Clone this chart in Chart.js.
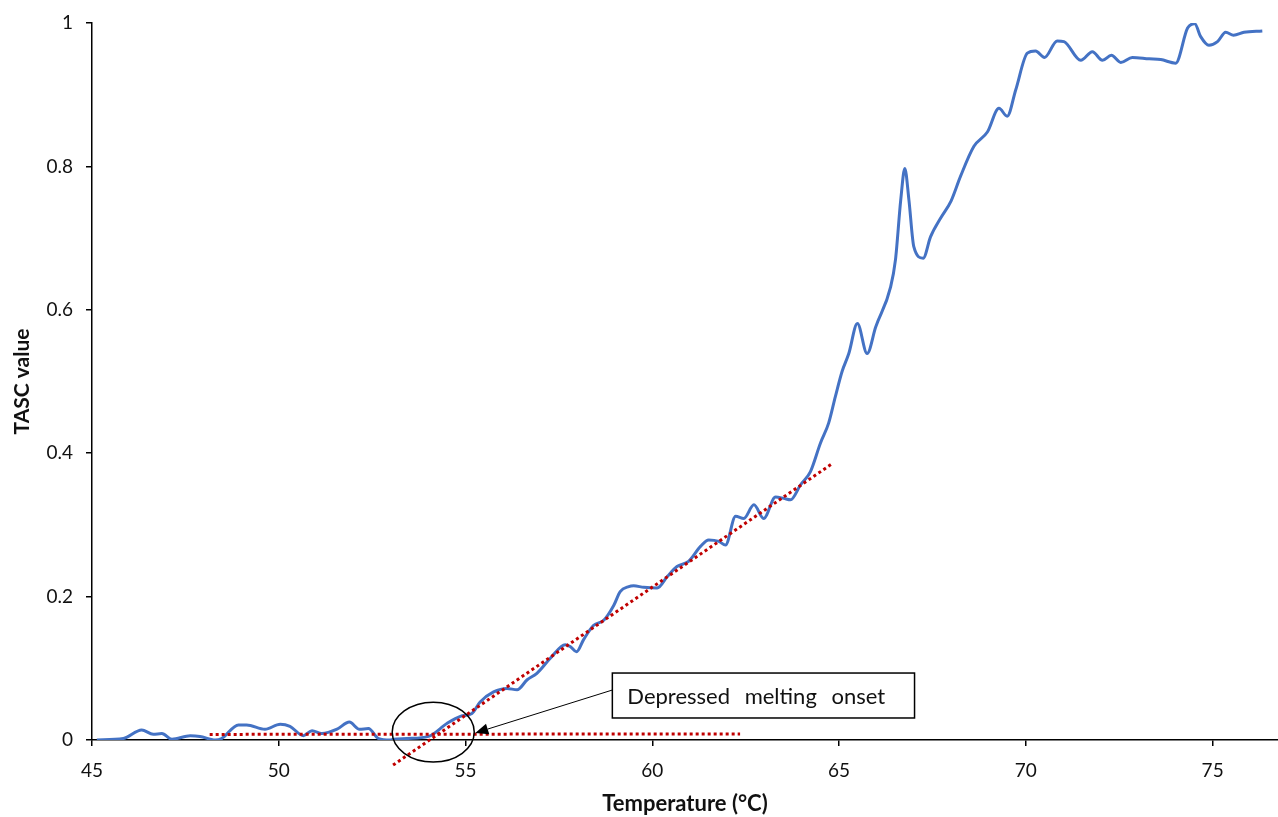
<!DOCTYPE html>
<html>
<head>
  <title>TASC value vs temperature</title>
  <script src="https://cdn.jsdelivr.net/npm/chart.js"></script>
  <style>
    html, body { margin: 0; padding: 0; background: #fff; }
    .chart-box { width: 1278px; height: 817px; }
  </style>
</head>
<body>
  <div class="chart-box">
    <canvas id="tascChart"></canvas>
  </div>

  <script>
    // measured curve (temperature in °C, TASC value)
    const tempC = [45.13, 45.84, 46.33, 46.64, 46.87, 47.14, 47.63, 47.89, 48.30, 48.47,
      48.92, 49.14, 49.63, 50.04, 50.30, 50.66, 50.89, 51.15, 51.56, 51.89,
      52.16, 52.40, 52.67, 52.98, 53.07, 53.43, 54.01, 54.50, 54.86, 55.17,
      55.39, 55.75, 56.11, 56.38, 56.65, 56.91, 57.27, 57.67, 57.81, 57.97,
      58.16, 58.43, 58.70, 58.97, 59.14, 59.37, 59.50, 59.77, 60.13, 60.40,
      60.66, 60.97, 61.29, 61.51, 61.78, 61.96, 62.23, 62.45, 62.72, 62.98,
      63.30, 63.52, 63.70, 63.97, 64.23, 64.50, 64.72, 64.90, 65.08, 65.26,
      65.49, 65.75, 65.98, 66.38, 66.51, 66.65, 66.76, 66.87, 67.00, 67.25,
      67.45, 67.72, 68.00, 68.25, 68.61, 68.97, 69.28, 69.50, 69.73, 70.04,
      70.26, 70.50, 70.84, 71.02, 71.47, 71.78, 72.05, 72.29, 72.54, 72.85,
      73.30, 73.61, 74.01, 74.33, 74.52, 74.68, 74.90, 75.13, 75.35, 75.56,
      75.84, 76.33];
    const tascValue = [0.000, 0.002, 0.014, 0.008, 0.009, 0.001, 0.006, 0.005, 0.000, 0.002,
      0.021, 0.021, 0.015, 0.022, 0.019, 0.006, 0.013, 0.009, 0.015, 0.025,
      0.015, 0.016, 0.002, 0.000, 0.001, 0.002, 0.005, 0.023, 0.033, 0.037,
      0.053, 0.067, 0.072, 0.070, 0.084, 0.093, 0.114, 0.133, 0.130, 0.123,
      0.140, 0.160, 0.167, 0.188, 0.207, 0.214, 0.215, 0.213, 0.212, 0.228,
      0.242, 0.249, 0.270, 0.279, 0.277, 0.272, 0.312, 0.309, 0.328, 0.309,
      0.339, 0.337, 0.335, 0.356, 0.374, 0.414, 0.442, 0.479, 0.514, 0.539,
      0.581, 0.539, 0.576, 0.632, 0.670, 0.753, 0.797, 0.753, 0.688, 0.672,
      0.702, 0.728, 0.752, 0.786, 0.828, 0.848, 0.881, 0.870, 0.907, 0.958,
      0.961, 0.952, 0.975, 0.974, 0.948, 0.960, 0.948, 0.955, 0.945, 0.952,
      0.950, 0.949, 0.944, 0.993, 0.999, 0.981, 0.969, 0.974, 0.987, 0.983,
      0.987, 0.989];

    // red dotted fit lines
    const baselineX = [48.15, 62.35];
    const baselineY = [0.0078, 0.0085];
    const slopeX = [53.06, 64.79];
    const slopeY = [-0.035, 0.3845];

    // axis ticks
    const xTicks = [45, 50, 55, 60, 65, 70, 75];
    const yTicks = [0, 0.2, 0.4, 0.6, 0.8, 1];

    // annotation: circle around onset, label box, arrow
    const onsetCircle = { x: 54.135, y: 0.011, rx: 1.098, ry: 0.0418 };
    const labelBox = { x1: 58.93, y1: 0.0934, x2: 67.02, y2: 0.0307, text: 'Depressed melting onset' };
    const arrowFrom = { x: 58.93, y: 0.0697 };
    const arrowTo = { x: 55.26, y: 0.0098 };

    const FONT = 'Lato, "Open Sans", sans-serif';

    const annotationPlugin = {
      id: 'onsetNote',
      afterDatasetsDraw(chart) {
        const ctx = chart.ctx;
        const xs = chart.scales.x, ys = chart.scales.y;
        ctx.save();

        // ellipse
        const cx = xs.getPixelForValue(onsetCircle.x);
        const cy = ys.getPixelForValue(onsetCircle.y);
        const rx = xs.getPixelForValue(onsetCircle.x + onsetCircle.rx) - cx;
        const ry = cy - ys.getPixelForValue(onsetCircle.y + onsetCircle.ry);
        ctx.strokeStyle = '#000';
        ctx.lineWidth = 1.5;
        ctx.beginPath();
        ctx.ellipse(cx, cy, rx, ry, 0, 0, Math.PI * 2);
        ctx.stroke();

        // arrow
        const ax1 = xs.getPixelForValue(arrowFrom.x), ay1 = ys.getPixelForValue(arrowFrom.y);
        const ax2 = xs.getPixelForValue(arrowTo.x), ay2 = ys.getPixelForValue(arrowTo.y);
        const ang = Math.atan2(ay2 - ay1, ax2 - ax1);
        const headLen = 13, headW = 5.5;
        const bx = ax2 - headLen * Math.cos(ang), by = ay2 - headLen * Math.sin(ang);
        ctx.lineWidth = 1;
        ctx.beginPath();
        ctx.moveTo(ax1, ay1);
        ctx.lineTo(bx, by);
        ctx.stroke();
        ctx.fillStyle = '#000';
        ctx.beginPath();
        ctx.moveTo(ax2, ay2);
        ctx.lineTo(bx + headW * Math.sin(ang), by - headW * Math.cos(ang));
        ctx.lineTo(bx - headW * Math.sin(ang), by + headW * Math.cos(ang));
        ctx.closePath();
        ctx.fill();

        // label box
        const bx1 = xs.getPixelForValue(labelBox.x1), by1 = ys.getPixelForValue(labelBox.y1);
        const bx2 = xs.getPixelForValue(labelBox.x2), by2 = ys.getPixelForValue(labelBox.y2);
        ctx.fillStyle = '#fff';
        ctx.fillRect(bx1, by1, bx2 - bx1, by2 - by1);
        ctx.lineWidth = 1.5;
        ctx.strokeRect(bx1, by1, bx2 - bx1, by2 - by1);
        ctx.fillStyle = '#111';
        ctx.font = '22px ' + FONT;
        ctx.wordSpacing = '9px';
        ctx.textBaseline = 'middle';
        ctx.textAlign = 'left';
        ctx.fillText(labelBox.text, bx1 + 15, (by1 + by2) / 2 + 1);

        ctx.restore();
      }
    };

    new Chart(document.getElementById('tascChart'), {
      type: 'line',
      data: {
        datasets: [
          {
            label: 'TASC',
            data: tempC.map((t, i) => ({ x: t, y: tascValue[i] })),
            borderColor: '#4472C4',
            borderWidth: 3,
            pointRadius: 0,
            cubicInterpolationMode: 'monotone',
            order: 2
          },
          {
            label: 'baseline',
            data: baselineX.map((t, i) => ({ x: t, y: baselineY[i] })),
            borderColor: '#C00000',
            borderWidth: 3,
            borderDash: [3, 3],
            pointRadius: 0,
            clip: false,
            order: 1
          },
          {
            label: 'onset slope',
            data: slopeX.map((t, i) => ({ x: t, y: slopeY[i] })),
            borderColor: '#C00000',
            borderWidth: 3,
            borderDash: [3, 3],
            pointRadius: 0,
            clip: false,
            order: 1
          }
        ]
      },
      options: {
        responsive: true,
        maintainAspectRatio: false,
        animation: false,
        layout: { padding: { top: 23, right: 0, bottom: 0, left: 0 } },
        plugins: {
          legend: { display: false },
          tooltip: { enabled: false }
        },
        scales: {
          x: {
            type: 'linear',
            min: 45,
            max: 76.75,
            afterFit: s => { s.height = 77; s.paddingRight = 0; s.paddingLeft = 0; },
            afterBuildTicks: s => { s.ticks = xTicks.map(v => ({ value: v })); },
            ticks: { font: { family: FONT, size: 19 }, color: '#111', padding: 13 },
            grid: { drawOnChartArea: false, drawTicks: true, tickLength: 6, color: '#000', lineWidth: 1.5 },
            border: { color: '#000', width: 1.5 },
            title: {
              display: true,
              text: 'Temperature (°C)',
              font: { family: FONT, size: 22, weight: 'bold' },
              color: '#111',
              padding: { top: 0, bottom: 0 }
            }
          },
          y: {
            min: 0,
            max: 1,
            afterFit: s => { s.width = 92; s.paddingTop = 0; s.paddingBottom = 0; },
            afterBuildTicks: s => { s.ticks = yTicks.map(v => ({ value: v })); },
            ticks: {
              font: { family: FONT, size: 19 },
              color: '#111',
              padding: 13,
              callback: v => String(v)
            },
            grid: { drawOnChartArea: false, drawTicks: true, tickLength: 6, color: '#000', lineWidth: 1.5 },
            border: { color: '#000', width: 1.5 },
            title: {
              display: true,
              text: 'TASC value',
              font: { family: FONT, size: 21, weight: 'bold' },
              color: '#111',
              padding: { top: 10, bottom: 0 }
            }
          }
        }
      },
      plugins: [annotationPlugin]
    });
  </script>
</body>
</html>
